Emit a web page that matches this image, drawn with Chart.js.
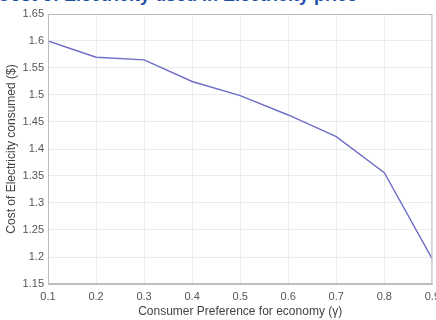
<!DOCTYPE html>
<html>
<head>
<meta charset="utf-8">
<script src="https://cdn.jsdelivr.net/npm/chart.js@4.4.1/dist/chart.umd.min.js"></script>
<style>
    html, body { margin: 0; padding: 0; background: #fff; overflow: hidden; }
    body { width: 436px; height: 320px; position: relative; }
    #title {
        position: absolute; left: 0; top: -15px; width: 436px; white-space: nowrap;
        font: bold 18px/20px "Liberation Sans", Arial, sans-serif; color: #1f50a8;
        text-indent: -3px;
    }
    #wrap { position: absolute; left: 0; top: 0; width: 446px; height: 320px; }
</style>
</head>
<body>
<div id="title">Cost of Electricity used in Electricity price</div>
<div id="wrap"><canvas id="chartCost"></canvas></div>
<script>
// consumer preference for economy (gamma)
let preference = [0.1, 0.2, 0.3, 0.4, 0.5, 0.6, 0.7, 0.8, 0.9];
// cost of electricity consumed ($)
let cost = [1.600, 1.570, 1.565, 1.525, 1.499, 1.463, 1.423, 1.356, 1.196];

let yTicks = [1.15, 1.2, 1.25, 1.3, 1.35, 1.4, 1.45, 1.5, 1.55, 1.6, 1.65];
let xTicks = [0.1, 0.2, 0.3, 0.4, 0.5, 0.6, 0.7, 0.8, 0.9];

let points = [];
for (let i = 0; i < preference.length; i++) {
    points.push({ x: preference[i], y: cost[i] });
}

// matlab style box around the plot
let boxPlugin = {
    id: 'box',
    afterDraw(chart) {
        let a = chart.chartArea;
        let ctx = chart.ctx;
        ctx.save();
        ctx.strokeStyle = '#bdbdbd';
        ctx.lineWidth = 1;
        ctx.strokeRect(a.left + 0.5, a.top + 0.5, a.right - a.left - 1, a.bottom - a.top - 1);
        ctx.restore();
    }
};

let font = { family: '"Liberation Sans", Arial, sans-serif', size: 11 };

let contextCost = document.querySelector('#chartCost').getContext('2d');

let config = {
    type: 'line',
    data: {
        datasets: [{
            data: points,
            borderColor: '#6e6ec6',
            borderWidth: 1.4,
            pointRadius: 0,
            tension: 0,
            fill: false
        }]
    },
    options: {
        responsive: true,
        maintainAspectRatio: false,
        animation: false,
        layout: { padding: { top: 14, right: 0, left: 0, bottom: 0 } },
        plugins: {
            legend: { display: false },
            tooltip: { enabled: false }
        },
        scales: {
            x: {
                type: 'linear',
                min: 0.1,
                max: 0.9,
                afterBuildTicks: (scale) => { scale.ticks = xTicks.map(v => ({ value: v })); },
                afterFit: (scale) => { scale.height = 36; },
                grid: { color: '#ececec', drawTicks: false },
                border: { color: '#bdbdbd' },
                ticks: {
                    color: '#555',
                    font: font,
                    padding: 6,
                    maxRotation: 0,
                    callback: (v) => String(parseFloat(v.toFixed(2)))
                },
                title: {
                    display: true,
                    text: 'Consumer Preference for economy (\u03b3)',
                    color: '#444',
                    font: { family: font.family, size: 12 },
                    padding: { top: 0, bottom: 1 }
                }
            },
            y: {
                min: 1.15,
                max: 1.65,
                afterBuildTicks: (scale) => { scale.ticks = yTicks.map(v => ({ value: v })); },
                afterFit: (scale) => { scale.width = 48; },
                grid: { color: '#ececec', drawTicks: false },
                border: { color: '#bdbdbd' },
                ticks: {
                    color: '#555',
                    font: font,
                    padding: 4,
                    callback: (v) => String(parseFloat(v.toFixed(2)))
                },
                title: {
                    display: true,
                    text: 'Cost of Electricity consumed ($)',
                    color: '#444',
                    font: { family: font.family, size: 12 },
                    padding: { top: 4, bottom: 0 }
                }
            }
        }
    },
    plugins: [boxPlugin]
};

let chartCost = new Chart(contextCost, config);
</script>
</body>
</html>
